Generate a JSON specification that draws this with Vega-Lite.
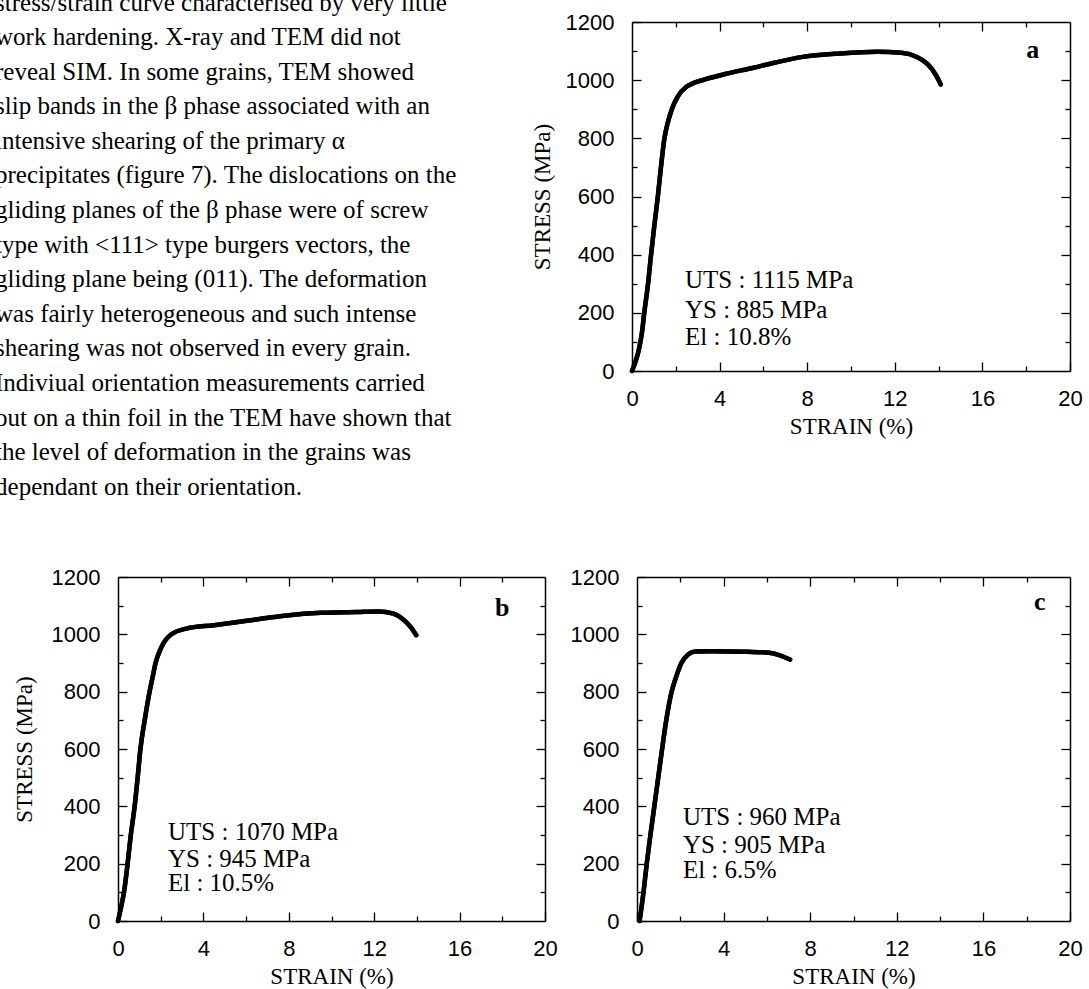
{
  "$schema": "https://vega.github.io/schema/vega-lite/v6.json",
  "autosize": {"type": "none"},
  "padding": {"left": 118, "top": 0, "right": 971, "bottom": 989},
  "background": "white",
  "config": {
    "view": {"stroke": null},
    "axis": {
      "domainColor": "black", "domainWidth": 1.5, "tickColor": "black", "tickWidth": 1.3,
      "labelColor": "black", "titleColor": "black", "labelFont": "Liberation Sans", "labelFontSize": 22,
      "titleFont": "Liberation Serif", "titleFontSize": 23, "titleFontWeight": "normal",
      "grid": false, "labelFlush": false, "labelOverlap": false, "format": "d"
    },
    "axisX": {"labelPadding": 26},
    "axisY": {"labelPadding": 27}
  },
  "datasets": {
    "txt": [
      {"line": 0, "text": "stress/strain curve characterised by very little"},
      {"line": 1, "text": "work hardening. X-ray and TEM did not"},
      {"line": 2, "text": "reveal SIM. In some grains, TEM showed"},
      {"line": 3, "text": "slip bands in the β phase associated with an"},
      {"line": 4, "text": "intensive shearing of the primary α"},
      {"line": 5, "text": "precipitates (figure 7). The dislocations on the"},
      {"line": 6, "text": "gliding planes of the β phase were of screw"},
      {"line": 7, "text": "type with <111> type burgers vectors, the"},
      {"line": 8, "text": "gliding plane being (011). The deformation"},
      {"line": 9, "text": "was fairly heterogeneous and such intense"},
      {"line": 10, "text": "shearing was not observed in every grain."},
      {"line": 11, "text": "Indiviual orientation measurements carried"},
      {"line": 12, "text": "out on a thin foil in the TEM have shown that"},
      {"line": 13, "text": "the level of deformation in the grains was"},
      {"line": 14, "text": "dependant on their orientation."}
    ],
    "curveA": [
      {"strain": 0, "stress": 0}, {"strain": 0.15, "stress": 30}, {"strain": 0.3, "stress": 69},
      {"strain": 0.45, "stress": 130}, {"strain": 0.56, "stress": 200}, {"strain": 0.73, "stress": 298},
      {"strain": 0.87, "stress": 400}, {"strain": 1.02, "stress": 500}, {"strain": 1.18, "stress": 600},
      {"strain": 1.32, "stress": 700}, {"strain": 1.48, "stress": 800}, {"strain": 1.62, "stress": 850},
      {"strain": 1.82, "stress": 900}, {"strain": 2.1, "stress": 945}, {"strain": 2.5, "stress": 978},
      {"strain": 2.8, "stress": 990}, {"strain": 3.3, "stress": 1002}, {"strain": 4.3, "stress": 1022},
      {"strain": 5.5, "stress": 1042}, {"strain": 6.5, "stress": 1060}, {"strain": 7.8, "stress": 1080},
      {"strain": 9.5, "stress": 1092}, {"strain": 11.2, "stress": 1098}, {"strain": 12.3, "stress": 1094},
      {"strain": 13.0, "stress": 1080}, {"strain": 13.5, "stress": 1055}, {"strain": 13.9, "stress": 1015},
      {"strain": 14.1, "stress": 985}
    ],
    "curveB": [
      {"strain": 0, "stress": 0}, {"strain": 0.15, "stress": 50}, {"strain": 0.3, "stress": 110},
      {"strain": 0.45, "stress": 200}, {"strain": 0.6, "stress": 300}, {"strain": 0.78, "stress": 400},
      {"strain": 0.92, "stress": 500}, {"strain": 1.05, "stress": 600}, {"strain": 1.25, "stress": 700},
      {"strain": 1.48, "stress": 800}, {"strain": 1.62, "stress": 850}, {"strain": 1.76, "stress": 900},
      {"strain": 2.0, "stress": 950}, {"strain": 2.5, "stress": 1000}, {"strain": 3.2, "stress": 1020},
      {"strain": 4.5, "stress": 1032}, {"strain": 6.2, "stress": 1049}, {"strain": 7.9, "stress": 1066},
      {"strain": 9.5, "stress": 1075}, {"strain": 11.2, "stress": 1078}, {"strain": 12.2, "stress": 1080},
      {"strain": 12.9, "stress": 1072}, {"strain": 13.4, "stress": 1049}, {"strain": 13.7, "stress": 1026},
      {"strain": 13.97, "stress": 997}
    ],
    "curveC": [
      {"strain": 0.12, "stress": 0}, {"strain": 0.3, "stress": 100}, {"strain": 0.45, "stress": 200},
      {"strain": 0.62, "stress": 300}, {"strain": 0.8, "stress": 400}, {"strain": 0.98, "stress": 500},
      {"strain": 1.16, "stress": 600}, {"strain": 1.35, "stress": 700}, {"strain": 1.6, "stress": 800},
      {"strain": 1.8, "stress": 850}, {"strain": 2.05, "stress": 900}, {"strain": 2.36, "stress": 930},
      {"strain": 2.68, "stress": 940}, {"strain": 3.5, "stress": 941}, {"strain": 5.1, "stress": 939},
      {"strain": 6.1, "stress": 936}, {"strain": 6.6, "stress": 927}, {"strain": 7.07, "stress": 912}
    ],
    "annA": [
      {"strain": 2.42, "stress": 313, "label": "UTS : 1115 MPa"},
      {"strain": 2.42, "stress": 210, "label": "YS : 885 MPa"},
      {"strain": 2.42, "stress": 117, "label": "El : 10.8%"}
    ],
    "annB": [
      {"strain": 2.34, "stress": 311, "label": "UTS : 1070 MPa"},
      {"strain": 2.34, "stress": 216, "label": "YS : 945 MPa"},
      {"strain": 2.34, "stress": 131, "label": "El : 10.5%"}
    ],
    "annC": [
      {"strain": 2.12, "stress": 363, "label": "UTS : 960 MPa"},
      {"strain": 2.12, "stress": 264, "label": "YS : 905 MPa"},
      {"strain": 2.12, "stress": 177, "label": "El : 6.5%"}
    ],
    "tagA": [{"strain": 18.3, "stress": 1104, "label": "a"}],
    "tagB": [{"strain": 18.0, "stress": 1091, "label": "b"}],
    "tagC": [{"strain": 18.6, "stress": 1113, "label": "c"}]
  },
  "bounds": "flush",
  "spacing": 577,
  "vconcat": [
    {
      "bounds": "flush",
      "spacing": 24,
      "hconcat": [
        {
          "width": 490, "height": 505,
          "data": {"name": "txt"},
          "mark": {"type": "text", "align": "left", "baseline": "alphabetic", "font": "Liberation Serif", "fontSize": 25, "color": "black"},
          "encoding": {
            "x": {"datum": 0, "type": "quantitative", "scale": {"domain": [0.2006, 1], "nice": false, "zero": false}, "axis": null},
            "y": {"field": "line", "type": "quantitative", "scale": {"domain": [-0.3035, 14.292], "reverse": true, "nice": false, "zero": false}, "axis": null},
            "text": {"field": "text"}
          }
        },
        {
          "width": 438, "height": 371,
          "layer": [
            {
              "data": {"name": "curveA"},
              "mark": {"type": "line", "color": "black", "strokeWidth": 4.5, "interpolate": "monotone", "strokeCap": "round"},
              "encoding": {
                "x": {"field": "strain", "type": "quantitative", "scale": {"domain": [0, 20], "nice": false, "zero": false},
                      "axis": {"orient": "bottom", "values": [0, 4, 8, 12, 16, 20], "tickSize": -9, "title": "STRAIN (%)", "titlePadding": 6}},
                "y": {"field": "stress", "type": "quantitative", "scale": {"domain": [0, 1200], "nice": false, "range": [371, 22]},
                      "axis": {"orient": "left", "values": [0, 200, 400, 600, 800, 1000, 1200], "tickSize": -9, "title": "STRESS (MPa)", "titlePadding": 11}}
              }
            },
            {
              "data": {"name": "curveA"},
              "mark": {"type": "line", "color": "black", "strokeWidth": 4.5, "interpolate": "monotone", "strokeCap": "round"},
              "encoding": {
                "x": {"field": "strain", "type": "quantitative", "axis": {"orient": "bottom", "values": [2, 6, 10, 14, 18], "tickSize": -5, "labels": false, "domain": false, "title": null}},
                "y": {"field": "stress", "type": "quantitative", "axis": {"orient": "left", "values": [100, 300, 500, 700, 900, 1100], "tickSize": -5, "labels": false, "domain": false, "title": null}}
              }
            },
            {
              "data": {"name": "annA"},
              "mark": {"type": "text", "align": "left", "baseline": "middle", "font": "Liberation Serif", "fontSize": 25, "color": "black"},
              "encoding": {
                "x": {"field": "strain", "type": "quantitative", "axis": {"orient": "top", "values": [4, 8, 12, 16], "tickSize": -9, "labels": false, "title": null, "offset": -22}},
                "y": {"field": "stress", "type": "quantitative", "axis": {"orient": "right", "values": [200, 400, 600, 800, 1000], "tickSize": -9, "labels": false, "title": null}},
                "text": {"field": "label"}
              }
            },
            {
              "data": {"name": "tagA"},
              "mark": {"type": "text", "align": "center", "baseline": "middle", "font": "Liberation Serif", "fontSize": 26, "fontWeight": "bold", "color": "black"},
              "encoding": {
                "x": {"field": "strain", "type": "quantitative", "axis": {"orient": "top", "values": [2, 6, 10, 14, 18], "tickSize": -5, "labels": false, "domain": false, "title": null, "offset": -22}},
                "y": {"field": "stress", "type": "quantitative", "axis": {"orient": "right", "values": [100, 300, 500, 700, 900, 1100], "tickSize": -5, "labels": false, "domain": false, "title": null}},
                "text": {"field": "label"}
              }
            }
          ],
          "resolve": {"axis": {"x": "independent", "y": "independent"}}
        }
      ]
    },
    {
      "bounds": "flush",
      "spacing": 92,
      "hconcat": [
        {
          "width": 427, "height": 344,
          "layer": [
            {
              "data": {"name": "curveB"},
              "mark": {"type": "line", "color": "black", "strokeWidth": 4.5, "interpolate": "monotone", "strokeCap": "round"},
              "encoding": {
                "x": {"field": "strain", "type": "quantitative", "scale": {"domain": [0, 20], "nice": false, "zero": false},
                      "axis": {"orient": "bottom", "values": [0, 4, 8, 12, 16, 20], "tickSize": -9, "title": "STRAIN (%)", "titlePadding": 6}},
                "y": {"field": "stress", "type": "quantitative", "scale": {"domain": [0, 1200], "nice": false},
                      "axis": {"orient": "left", "values": [0, 200, 400, 600, 800, 1000, 1200], "tickSize": -9, "title": "STRESS (MPa)", "titlePadding": 15}}
              }
            },
            {
              "data": {"name": "curveB"},
              "mark": {"type": "line", "color": "black", "strokeWidth": 4.5, "interpolate": "monotone", "strokeCap": "round"},
              "encoding": {
                "x": {"field": "strain", "type": "quantitative", "axis": {"orient": "bottom", "values": [2, 6, 10, 14, 18], "tickSize": -5, "labels": false, "domain": false, "title": null}},
                "y": {"field": "stress", "type": "quantitative", "axis": {"orient": "left", "values": [100, 300, 500, 700, 900, 1100], "tickSize": -5, "labels": false, "domain": false, "title": null}}
              }
            },
            {
              "data": {"name": "annB"},
              "mark": {"type": "text", "align": "left", "baseline": "middle", "font": "Liberation Serif", "fontSize": 25, "color": "black"},
              "encoding": {
                "x": {"field": "strain", "type": "quantitative", "axis": {"orient": "top", "values": [4, 8, 12, 16], "tickSize": -9, "labels": false, "title": null}},
                "y": {"field": "stress", "type": "quantitative", "axis": {"orient": "right", "values": [200, 400, 600, 800, 1000], "tickSize": -9, "labels": false, "title": null}},
                "text": {"field": "label"}
              }
            },
            {
              "data": {"name": "tagB"},
              "mark": {"type": "text", "align": "center", "baseline": "middle", "font": "Liberation Serif", "fontSize": 26, "fontWeight": "bold", "color": "black"},
              "encoding": {
                "x": {"field": "strain", "type": "quantitative", "axis": {"orient": "top", "values": [2, 6, 10, 14, 18], "tickSize": -5, "labels": false, "domain": false, "title": null}},
                "y": {"field": "stress", "type": "quantitative", "axis": {"orient": "right", "values": [100, 300, 500, 700, 900, 1100], "tickSize": -5, "labels": false, "domain": false, "title": null}},
                "text": {"field": "label"}
              }
            }
          ],
          "resolve": {"axis": {"x": "independent", "y": "independent"}}
        },
        {
          "width": 433, "height": 344,
          "layer": [
            {
              "data": {"name": "curveC"},
              "mark": {"type": "line", "color": "black", "strokeWidth": 4.5, "interpolate": "monotone", "strokeCap": "round"},
              "encoding": {
                "x": {"field": "strain", "type": "quantitative", "scale": {"domain": [0, 20], "nice": false, "zero": false},
                      "axis": {"orient": "bottom", "values": [0, 4, 8, 12, 16, 20], "tickSize": -9, "title": "STRAIN (%)", "titlePadding": 6}},
                "y": {"field": "stress", "type": "quantitative", "scale": {"domain": [0, 1200], "nice": false},
                      "axis": {"orient": "left", "values": [0, 200, 400, 600, 800, 1000, 1200], "tickSize": -9, "title": null}}
              }
            },
            {
              "data": {"name": "curveC"},
              "mark": {"type": "line", "color": "black", "strokeWidth": 4.5, "interpolate": "monotone", "strokeCap": "round"},
              "encoding": {
                "x": {"field": "strain", "type": "quantitative", "axis": {"orient": "bottom", "values": [2, 6, 10, 14, 18], "tickSize": -5, "labels": false, "domain": false, "title": null}},
                "y": {"field": "stress", "type": "quantitative", "axis": {"orient": "left", "values": [100, 300, 500, 700, 900, 1100], "tickSize": -5, "labels": false, "domain": false, "title": null}}
              }
            },
            {
              "data": {"name": "annC"},
              "mark": {"type": "text", "align": "left", "baseline": "middle", "font": "Liberation Serif", "fontSize": 25, "color": "black"},
              "encoding": {
                "x": {"field": "strain", "type": "quantitative", "axis": {"orient": "top", "values": [4, 8, 12, 16], "tickSize": -9, "labels": false, "title": null}},
                "y": {"field": "stress", "type": "quantitative", "axis": {"orient": "right", "values": [200, 400, 600, 800, 1000], "tickSize": -9, "labels": false, "title": null}},
                "text": {"field": "label"}
              }
            },
            {
              "data": {"name": "tagC"},
              "mark": {"type": "text", "align": "center", "baseline": "middle", "font": "Liberation Serif", "fontSize": 26, "fontWeight": "bold", "color": "black"},
              "encoding": {
                "x": {"field": "strain", "type": "quantitative", "axis": {"orient": "top", "values": [2, 6, 10, 14, 18], "tickSize": -5, "labels": false, "domain": false, "title": null}},
                "y": {"field": "stress", "type": "quantitative", "axis": {"orient": "right", "values": [100, 300, 500, 700, 900, 1100], "tickSize": -5, "labels": false, "domain": false, "title": null}},
                "text": {"field": "label"}
              }
            }
          ],
          "resolve": {"axis": {"x": "independent", "y": "independent"}}
        }
      ]
    }
  ]
}
